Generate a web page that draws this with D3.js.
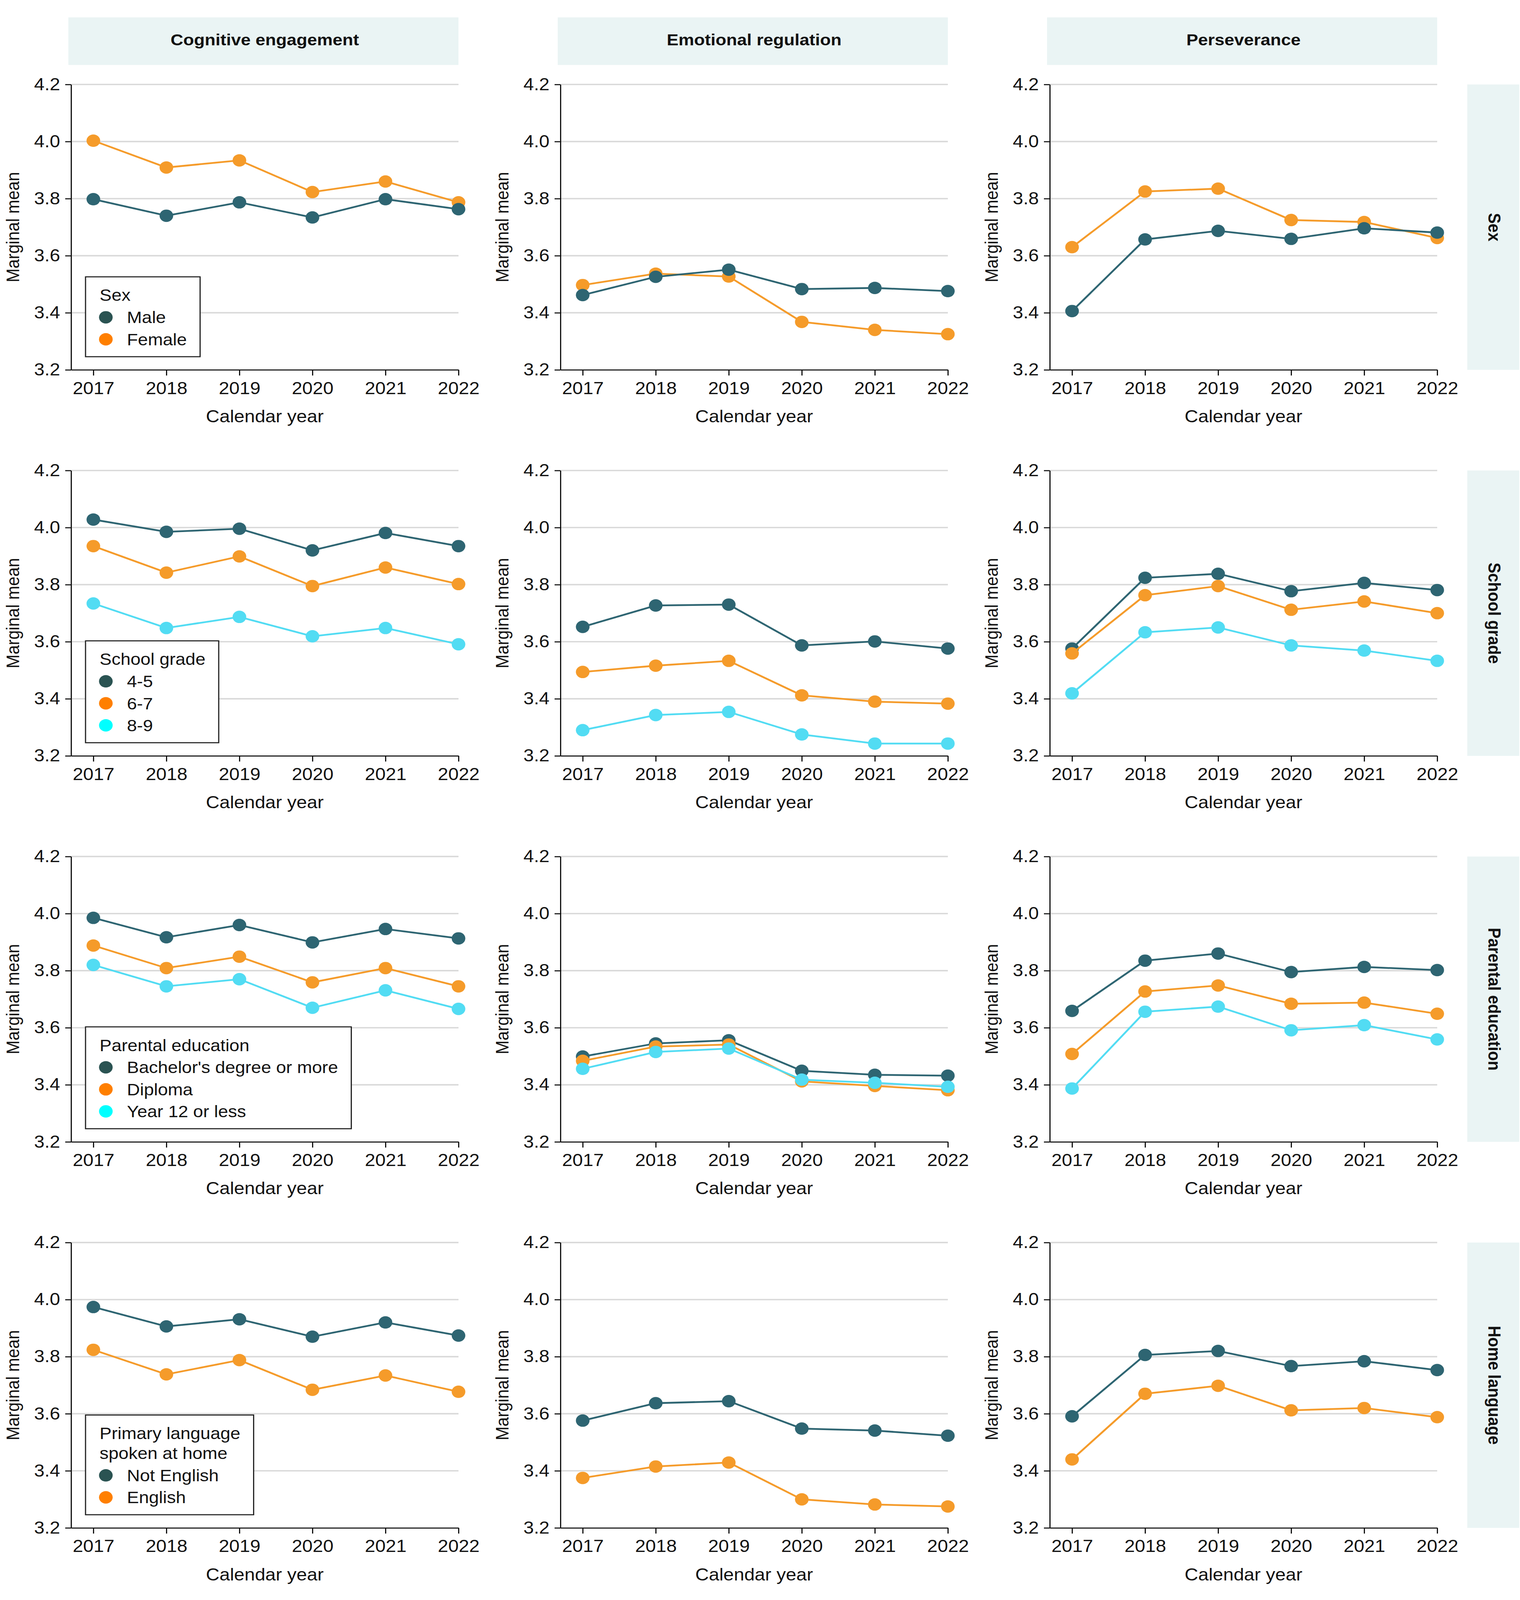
<!DOCTYPE html>
<html>
<head>
<meta charset="utf-8">
<script src="https://cdn.jsdelivr.net/npm/d3@7"></script>
<style>
  html, body { margin: 0; padding: 0; background: #fff; overflow: hidden; }
  svg { display: block; }
  text { font-family: "Liberation Sans", Arial, sans-serif; fill: #111; }
</style>
</head>
<body>
<script>
const width = 3892;
const height = 4508;

// Data

const years = [2017, 2018, 2019, 2020, 2021, 2022];
const yTicks = [3.2, 3.4, 3.6, 3.8, 4.0, 4.2];
const outcomes = ["Cognitive engagement", "Emotional regulation", "Perseverance"];
const groupings = ["Sex", "School grade", "Parental education", "Home language"];
const legendTitles = [["Sex"], ["School grade"], ["Parental education"], ["Primary language", "spoken at home"]];
const groupLabels = [
    ["Male", "Female"],
    ["4-5", "6-7", "8-9"],
    ["Bachelor's degree or more", "Diploma", "Year 12 or less"],
    ["Not English", "English"]
];

// each: [outcome][group][year]
const sexMeans = [
    [[3.798, 3.740, 3.787, 3.734, 3.798, 3.763], [4.003, 3.909, 3.934, 3.823, 3.860, 3.787]],
    [[3.462, 3.526, 3.551, 3.483, 3.487, 3.476], [3.497, 3.537, 3.527, 3.368, 3.340, 3.325]],
    [[3.406, 3.657, 3.687, 3.659, 3.696, 3.681], [3.630, 3.825, 3.835, 3.725, 3.718, 3.662]]
];
const gradeMeans = [
    [[4.028, 3.985, 3.996, 3.920, 3.981, 3.935], [3.935, 3.842, 3.899, 3.795, 3.860, 3.802], [3.734, 3.648, 3.687, 3.619, 3.648, 3.591]],
    [[3.652, 3.727, 3.730, 3.587, 3.601, 3.576], [3.494, 3.516, 3.533, 3.412, 3.390, 3.383], [3.290, 3.343, 3.354, 3.275, 3.243, 3.243]],
    [[3.576, 3.824, 3.838, 3.777, 3.806, 3.781], [3.559, 3.763, 3.795, 3.712, 3.741, 3.700], [3.419, 3.633, 3.650, 3.587, 3.569, 3.533]]
];
const parentEdMeans = [
    [[3.985, 3.917, 3.960, 3.899, 3.946, 3.913], [3.888, 3.809, 3.849, 3.759, 3.809, 3.745], [3.820, 3.745, 3.770, 3.670, 3.731, 3.666]],
    [[3.499, 3.545, 3.556, 3.449, 3.435, 3.432], [3.484, 3.534, 3.541, 3.412, 3.396, 3.381], [3.456, 3.515, 3.527, 3.418, 3.407, 3.393]],
    [[3.659, 3.835, 3.860, 3.795, 3.813, 3.802], [3.508, 3.727, 3.748, 3.684, 3.688, 3.649], [3.387, 3.656, 3.674, 3.591, 3.609, 3.559]]
];
const languageMeans = [
    [[3.974, 3.906, 3.931, 3.870, 3.920, 3.874], [3.824, 3.738, 3.788, 3.684, 3.734, 3.677]],
    [[3.576, 3.637, 3.644, 3.548, 3.541, 3.523], [3.375, 3.415, 3.429, 3.300, 3.282, 3.275]],
    [[3.591, 3.806, 3.820, 3.767, 3.784, 3.753], [3.440, 3.670, 3.698, 3.612, 3.620, 3.588]]
];
const rowData = [sexMeans, gradeMeans, parentEdMeans, languageMeans];

const lineColors = ["#2E6572", "#F59B2A", "#52DCF3"];
const keyColors = ["#2A5352", "#FF7F00", "#00FFFF"];

const plotW = 992, plotH = 804;
const colStep = 1253, rowStep = 1087.6;
const left0 = 182, top0 = 238;

// the window is shorter than the figure, so stretch the figure onto it
const svg = d3.select("body").append("svg")
    .attr("viewBox", `0 0 ${width} ${height}`)
    .attr("preserveAspectRatio", "none")
    .style("width", "100vw")
    .style("height", "100vh")
    .style("background", "#fff");

const x = d3.scaleLinear().domain([2016.695, 2022]).range([0, plotW]);
const y = d3.scaleLinear().domain([3.2, 4.2]).range([plotH, 0]);

rowData.forEach((rowMeans, r) => {
    outcomes.forEach((outcome, c) => {
        const g = svg.append("g")
            .attr("transform", `translate(${left0 + c * colStep},${top0 + r * rowStep})`);

        // gridlines
        g.selectAll(".grid")
            .data(yTicks.filter(t => t > 3.2))
            .join("line")
            .attr("x1", 0).attr("x2", plotW)
            .attr("y1", d => y(d)).attr("y2", d => y(d))
            .attr("stroke", "#d9d9d9")
            .attr("stroke-width", 4);

        const yAxis = g.append("g")
            .call(d3.axisLeft(y).tickValues(yTicks).tickSize(15).tickSizeOuter(0)
                .tickPadding(13).tickFormat(d3.format(".1f")));
        const xAxis = g.append("g")
            .attr("transform", `translate(0,${plotH})`)
            .call(d3.axisBottom(x).tickValues(years).tickSize(16).tickSizeOuter(0)
                .tickPadding(18).tickFormat(d3.format("d")));
        [yAxis, xAxis].forEach(a => {
            a.selectAll("path, line").attr("stroke", "#111").attr("stroke-width", 3);
            a.selectAll("text").attr("font-size", 48).attr("fill", "#111")
                .style("font-family", '"Liberation Sans", Arial, sans-serif');
        });

        g.append("text")
            .attr("transform", `translate(-145,${plotH / 2}) rotate(-90)`)
            .attr("text-anchor", "middle")
            .attr("dominant-baseline", "middle")
            .attr("font-size", 47)
            .text("Marginal mean");

        g.append("text")
            .attr("x", plotW / 2)
            .attr("y", plotH + 135)
            .attr("text-anchor", "middle")
            .attr("dominant-baseline", "middle")
            .attr("font-size", 48)
            .text("Calendar year");

        // strips
        if (r === 0) {
            g.append("rect")
                .attr("x", -7).attr("y", -189)
                .attr("width", plotW + 7).attr("height", 134)
                .attr("fill", "#EAF4F4");
            g.append("text")
                .attr("x", plotW / 2).attr("y", -122)
                .attr("text-anchor", "middle")
                .attr("dominant-baseline", "middle")
                .attr("font-size", 45)
                .attr("font-weight", "bold")
                .text(outcome);
        }
        if (c === outcomes.length - 1) {
            g.append("rect")
                .attr("x", 1069).attr("y", 0)
                .attr("width", 133).attr("height", plotH)
                .attr("fill", "#EAF4F4");
            g.append("text")
                .attr("transform", `translate(${1069 + 66},${plotH / 2}) rotate(90)`)
                .attr("text-anchor", "middle")
                .attr("dominant-baseline", "middle")
                .attr("font-size", 45)
                .attr("font-weight", "bold")
                .text(groupings[r]);
        }

        // series: in the Sex row Male sits on top, elsewhere later groups sit on top
        const series = rowMeans[c];
        const order = d3.range(series.length);
        if (r === 0) order.reverse();
        const line = d3.line().x((d, i) => x(years[i])).y(d => y(d));
        order.forEach(k => {
            g.append("path")
                .datum(series[k])
                .attr("d", line)
                .attr("fill", "none")
                .attr("stroke", lineColors[k])
                .attr("stroke-width", 5);
            g.selectAll(null)
                .data(series[k])
                .join("circle")
                .attr("cx", (d, i) => x(years[i]))
                .attr("cy", d => y(d))
                .attr("r", 17.5)
                .attr("fill", lineColors[k]);
        });

        // legend in first column
        if (c === 0) {
            const titles = legendTitles[r];
            const labels = groupLabels[r];
            const boxH = 68 + (titles.length - 1) * 56 + 46 + (labels.length - 1) * 62 + 49;
            const lg = g.append("g")
                .attr("transform", `translate(37,${plotH - 37 - boxH})`);
            const box = lg.append("rect")
                .attr("height", boxH)
                .attr("fill", "#fff")
                .attr("stroke", "#222")
                .attr("stroke-width", 3);
            titles.forEach((t, i) => {
                lg.append("text")
                    .attr("x", 36)
                    .attr("y", 68 + i * 56)
                    .attr("font-size", 46)
                    .text(t);
            });
            const firstY = 68 + (titles.length - 1) * 56 + 46;
            let maxRight = 0;
            lg.selectAll("text").each(function() {
                maxRight = Math.max(maxRight, 36 + this.getComputedTextLength());
            });
            labels.forEach((lab, i) => {
                lg.append("circle")
                    .attr("cx", 52)
                    .attr("cy", firstY + i * 62)
                    .attr("r", 17.5)
                    .attr("fill", keyColors[i]);
                const tx = lg.append("text")
                    .attr("x", 106)
                    .attr("y", firstY + i * 62)
                    .attr("dy", "0.36em")
                    .attr("font-size", 46)
                    .text(lab);
                maxRight = Math.max(maxRight, 106 + tx.node().getComputedTextLength());
            });
            box.attr("width", maxRight + 34);
        }
    });
});
</script>
</body>
</html>
